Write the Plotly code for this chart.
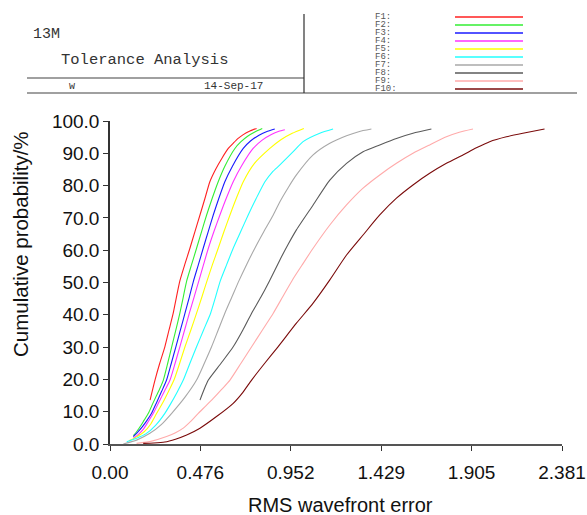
import plotly.graph_objects as go

# Monte Carlo tolerance runs: cumulative probability vs RMS wavefront error
names = ["F1", "F2", "F3", "F4", "F5", "F6", "F7", "F8", "F9", "F10"]
colors = ["#ff2020", "#33ee33", "#1a1aff", "#ff33ff", "#ffff00",
          "#22ffff", "#a8a8a8", "#5a5a5a", "#ffaaaa", "#7a0a0a"]

f1_x = [0.211, 0.237, 0.262, 0.289, 0.311, 0.333, 0.350, 0.368, 0.394, 0.421, 0.447, 0.474,
        0.500, 0.526, 0.556, 0.589, 0.623, 0.649, 0.675, 0.700, 0.737, 0.772]
f1_y = [13.6, 19.8, 25.0, 30.1, 35.3, 40.5, 45.5, 50.5, 55.6, 60.6, 65.7, 70.9,
        76.0, 81.2, 85.0, 88.4, 91.5, 93.1, 94.6, 95.7, 96.9, 97.7]

f2_x = [0.123, 0.140, 0.160, 0.180, 0.202, 0.225, 0.245, 0.265, 0.281, 0.304, 0.325, 0.347, 0.368,
        0.386, 0.404, 0.430, 0.456, 0.482, 0.509, 0.538, 0.570, 0.605, 0.658, 0.690, 0.725, 0.765, 0.802]
f2_y = [2.6, 3.8, 5.5, 7.4, 9.5, 12.5, 15.0, 17.5, 19.8, 25.0, 30.1, 35.3, 40.5,
        45.5, 50.5, 55.6, 60.6, 65.7, 70.9, 76.0, 81.2, 86.0, 91.5, 93.6, 95.3, 96.7, 97.7]

f3_x = [0.123, 0.145, 0.170, 0.195, 0.219, 0.245, 0.272, 0.298, 0.323, 0.347, 0.371, 0.395, 0.418,
        0.440, 0.466, 0.491, 0.517, 0.544, 0.573, 0.605, 0.645, 0.702, 0.740, 0.785, 0.830, 0.868]
f3_y = [2.3, 3.6, 5.3, 7.3, 9.5, 12.8, 16.3, 19.8, 25.0, 30.1, 35.3, 40.5, 45.5,
        50.5, 55.6, 60.6, 65.7, 70.9, 76.0, 81.2, 86.0, 91.5, 93.8, 95.6, 96.8, 97.5]

f4_x = [0.123, 0.150, 0.175, 0.200, 0.228, 0.258, 0.288, 0.316, 0.343, 0.368, 0.393, 0.418, 0.443,
        0.468, 0.493, 0.518, 0.547, 0.579, 0.612, 0.649, 0.695, 0.754, 0.800, 0.850, 0.890, 0.921]
f4_y = [1.8, 3.0, 4.5, 6.8, 9.5, 13.0, 16.5, 19.8, 25.0, 30.1, 35.3, 40.5, 45.5,
        50.5, 55.6, 60.6, 65.7, 70.9, 76.0, 81.2, 86.3, 91.5, 94.0, 95.8, 96.8, 97.3]

f5_x = [0.100, 0.140, 0.180, 0.215, 0.246, 0.280, 0.310, 0.337, 0.367, 0.395, 0.426, 0.456, 0.484,
        0.511, 0.540, 0.570, 0.600, 0.632, 0.665, 0.702, 0.760, 0.842, 0.900, 0.960, 1.021]
f5_y = [1.0, 2.2, 3.8, 6.2, 9.5, 13.0, 16.5, 19.8, 25.0, 30.1, 35.3, 40.5, 45.5,
        50.5, 55.6, 60.6, 65.7, 70.9, 76.0, 81.2, 86.8, 91.5, 94.2, 96.2, 97.7]

f6_x = [0.088, 0.140, 0.190, 0.240, 0.289, 0.320, 0.355, 0.386, 0.421, 0.456, 0.493, 0.530, 0.556,
        0.581, 0.615, 0.649, 0.688, 0.728, 0.770, 0.816, 0.855, 0.895, 0.965, 1.017, 1.105, 1.175]
f6_y = [0.7, 1.8, 3.2, 5.8, 9.5, 12.5, 16.2, 19.8, 25.0, 30.1, 35.3, 40.5, 45.5,
        50.5, 55.6, 60.6, 65.7, 70.9, 76.0, 81.2, 84.2, 86.4, 90.5, 93.6, 96.2, 97.5]

f7_x = [0.070, 0.140, 0.210, 0.270, 0.325, 0.395, 0.456, 0.497, 0.535, 0.570, 0.605, 0.642, 0.679,
        0.720, 0.763, 0.810, 0.860, 0.895, 0.940, 0.982, 1.070, 1.158, 1.246, 1.310, 1.377]
f7_y = [0.0, 1.2, 3.3, 6.0, 9.5, 14.5, 19.8, 25.0, 30.1, 35.3, 40.5, 45.5, 50.5,
        55.6, 60.6, 65.7, 70.9, 75.0, 79.5, 83.3, 89.5, 93.1, 95.4, 96.7, 97.5]

f8_x = [0.474, 0.495, 0.518, 0.585, 0.649, 0.700, 0.746, 0.795, 0.840, 0.895, 0.940, 0.982,
        1.070, 1.158, 1.246, 1.333, 1.421, 1.509, 1.596, 1.693]
f8_y = [13.6, 16.8, 19.8, 25.0, 30.1, 35.3, 40.5, 45.5, 50.5, 57.0, 62.0, 66.3,
        74.0, 81.7, 86.9, 90.5, 92.6, 94.6, 96.2, 97.5]

f9_x = [0.140, 0.220, 0.298, 0.345, 0.386, 0.425, 0.465, 0.505, 0.544, 0.588, 0.632, 0.690, 0.746,
        0.803, 0.860, 0.910, 0.961, 1.015, 1.070, 1.158, 1.246, 1.333, 1.421, 1.509, 1.596, 1.684,
        1.772, 1.840, 1.912]
f9_y = [0.2, 0.9, 2.3, 3.5, 4.9, 7.0, 9.5, 11.8, 14.1, 16.9, 19.8, 25.0, 30.1,
        35.3, 40.5, 45.6, 50.8, 55.7, 60.6, 67.8, 74.0, 79.2, 83.3, 86.9, 90.0, 92.6,
        95.1, 96.5, 97.5]

f10_x = [0.175, 0.230, 0.289, 0.345, 0.404, 0.474, 0.561, 0.649, 0.700, 0.746, 0.815, 0.885, 0.982,
         1.070, 1.158, 1.246, 1.333, 1.421, 1.509, 1.596, 1.684, 1.772, 1.859, 1.930, 2.000, 2.088,
         2.175, 2.289]
f10_y = [0.2, 0.3, 0.6, 1.5, 2.8, 4.9, 8.5, 12.6, 16.0, 19.8, 25.0, 30.1, 37.4,
         43.6, 50.8, 58.5, 64.7, 70.9, 76.1, 80.2, 83.8, 86.9, 89.5, 91.7, 93.6, 95.1,
         96.2, 97.5]

series_x = [f1_x, f2_x, f3_x, f4_x, f5_x, f6_x, f7_x, f8_x, f9_x, f10_x]
series_y = [f1_y, f2_y, f3_y, f4_y, f5_y, f6_y, f7_y, f8_y, f9_y, f10_y]

x_ticks = [0.0, 0.476, 0.952, 1.429, 1.905, 2.381]
x_tick_text = ["0.00", "0.476", "0.952", "1.429", "1.905", "2.381"]
y_ticks = [0, 10, 20, 30, 40, 50, 60, 70, 80, 90, 100]
y_tick_text = [f"{v:.1f}" for v in y_ticks]

title_main = "13M"
title_sub = "Tolerance Analysis"
footer_left = "w"
footer_date = "14-Sep-17"
x_title = "RMS wavefront error"
y_title = "Cumulative probability/%"

W, H = 587, 515
L, R, T, B = 110, 25, 121, 71
PW, PH = W - L - R, H - T - B


def px(xp):
    return (xp - L) / PW


def py(yp):
    return (H - B - yp) / PH


fig = go.Figure()
for n, c, xs, ys in zip(names, colors, series_x, series_y):
    fig.add_trace(go.Scatter(x=xs, y=ys, mode="lines", name=n,
                             line=dict(color=c, width=1.1, shape="spline", smoothing=0.6),
                             showlegend=False))

shapes = []
annotations = []
hdr = dict(color="#808080", width=1.5)
# header frame
shapes.append(dict(type="line", xref="paper", yref="paper", x0=px(27), x1=px(304), y0=py(78), y1=py(78), line=hdr))
shapes.append(dict(type="line", xref="paper", yref="paper", x0=px(27), x1=px(577), y0=py(93), y1=py(93), line=hdr))
shapes.append(dict(type="line", xref="paper", yref="paper", x0=px(304), x1=px(304), y0=py(14), y1=py(93),
                   line=dict(color="#303030", width=1.2)))

mono = "Liberation Mono, Courier New, monospace"
annotations.append(dict(x=px(31), y=py(34), xref="paper", yref="paper", text=title_main, showarrow=False,
                        xanchor="left", yanchor="middle", font=dict(family=mono, size=15, color="#333")))
annotations.append(dict(x=px(59), y=py(60), xref="paper", yref="paper", text=title_sub, showarrow=False,
                        xanchor="left", yanchor="middle", font=dict(family=mono, size=15.5, color="#333")))
annotations.append(dict(x=px(72), y=py(86), xref="paper", yref="paper", text=footer_left, showarrow=False,
                        xanchor="center", yanchor="middle", font=dict(family=mono, size=10, color="#333")))
annotations.append(dict(x=px(233), y=py(86), xref="paper", yref="paper", text=footer_date, showarrow=False,
                        xanchor="center", yanchor="middle", font=dict(family=mono, size=11, color="#333")))

# key: label on the left, line sample on the right
key_rows = [17, 25, 33, 41, 49, 57, 65, 73, 81, 89]
for n, c, yy in zip(names, colors, key_rows):
    shapes.append(dict(type="line", xref="paper", yref="paper", x0=px(455), x1=px(523),
                       y0=py(yy), y1=py(yy), line=dict(color=c, width=1.3)))
    annotations.append(dict(x=px(373), y=py(yy), xref="paper", yref="paper", text=n + ":", showarrow=False,
                            xanchor="left", yanchor="middle", height=8,
                            font=dict(family=mono, size=9, color="#555")))

sans = "Liberation Sans, Arial, sans-serif"
axis_font = dict(family=sans, size=19, color="#111")
annotations.append(dict(x=px(340), y=py(505), xref="paper", yref="paper", text=x_title, showarrow=False,
                        xanchor="center", yanchor="middle", font=dict(family=sans, size=20, color="#111")))
annotations.append(dict(x=px(20), y=py(244), xref="paper", yref="paper", text=y_title, showarrow=False,
                        textangle=-90, xanchor="center", yanchor="middle",
                        font=dict(family=sans, size=20.5, color="#111")))

fig.update_layout(
    width=W, height=H,
    margin=dict(l=L, r=R, t=T, b=B, autoexpand=False),
    paper_bgcolor="white", plot_bgcolor="white",
    shapes=shapes, annotations=annotations,
    xaxis=dict(range=[0, 2.381], tickvals=x_ticks, ticktext=x_tick_text, showgrid=False, zeroline=False,
               showline=True, linecolor="#555", linewidth=1.5, ticks="outside", ticklen=5, tickcolor="#333",
               tickfont=axis_font, ticklabelstandoff=5),
    yaxis=dict(range=[0, 100], tickvals=y_ticks, ticktext=y_tick_text, showgrid=False, zeroline=False,
               showline=True, linecolor="#333", linewidth=1.5, ticks="outside", ticklen=5, tickcolor="#333",
               tickfont=axis_font),
)

fig.write_html("out.html")
